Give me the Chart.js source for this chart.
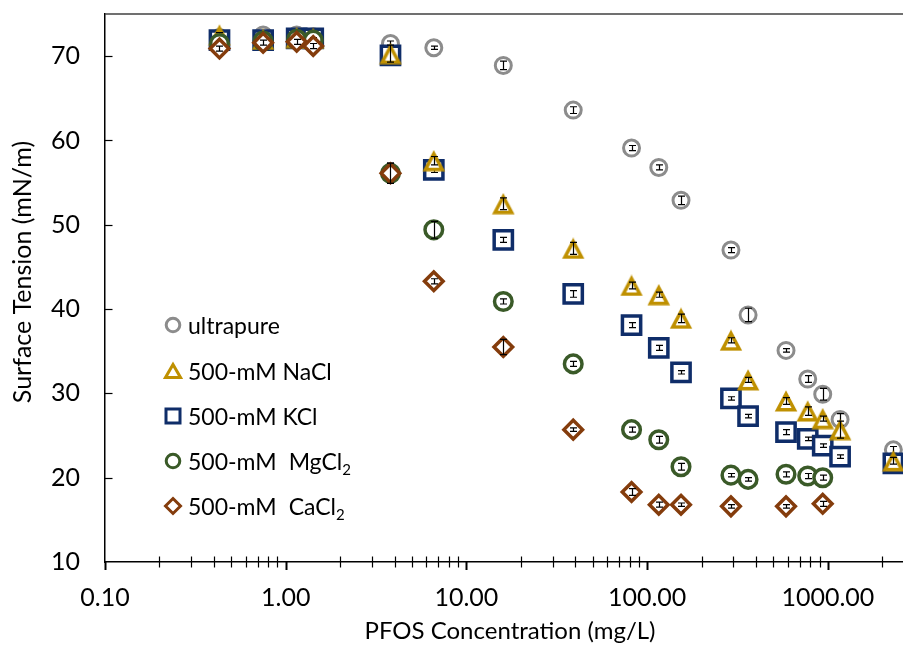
<!DOCTYPE html>
<html>
<head>
<meta charset="utf-8">
<script src="https://cdn.jsdelivr.net/npm/chart.js@4.4.1/dist/chart.umd.min.js"></script>
<style>
  html, body { margin: 0; padding: 0; background: #fff; }
  #wrap { position: relative; width: 903px; height: 645px; }
  #legend { position: absolute; left: 0; top: 0; font-family: Lato, sans-serif; font-size: 23px; color: #000; }
  .row { position: absolute; left: 163px; height: 30px; display: flex; align-items: center; white-space: nowrap; }
  .row svg { width: 20px; height: 20px; margin-right: 5px; flex: none; }
  .row sub { font-size: 15px; vertical-align: -5px; line-height: 0; }
  .gap { display: inline-block; width: 12px; }
</style>
</head>
<body>
<div id="wrap">
  <canvas id="chart" width="903" height="645"></canvas>
  <div id="legend"></div>
</div>
<script>
// PFOS concentration (mg/L), shared by all series
const conc = [0.43, 0.75, 1.15, 1.42, 3.8, 6.6, 16, 39, 82, 116, 154, 291, 362, 587, 774, 937, 1169, 2305];

// surface tension (mN/m), null = not measured
const ultrapure = [72.2, 72.5, 72.5, 72.3, 71.5, 71.0, 68.9, 63.6, 59.1, 56.8, 52.9, 47.0, 39.3, 35.1, 31.7, 29.9, 26.9, 23.3];
const nacl      = [72.5, 72.0, 72.2, 72.1, 70.3, 57.6, 52.5, 47.2, 42.8, 41.7, 38.9, 36.3, 31.6, 29.1, 27.9, 27.0, 25.7, 22.0];
const kcl       = [71.9, 71.9, 72.1, 72.1, 70.1, 56.5, 48.2, 41.8, 38.1, 35.4, 32.5, 29.4, 27.3, 25.4, 24.6, 23.8, 22.5, 21.7];
const mgcl2     = [71.5, 71.8, 72.0, 71.9, 56.1, 49.4, 40.9, 33.5, 25.7, 24.5, 21.3, 20.3, 19.8, 20.4, 20.2, 20.0, null, null];
const cacl2     = [70.9, 71.6, 71.7, 71.2, 56.1, 43.3, 35.5, 25.7, 18.3, 16.8, 16.8, 16.6, null, 16.6, null, 16.9, null, null];

// error bar half widths (mN/m)
const ultrapureErr = [0.3, 0.3, 0.3, 0.3, 0.3, 0.2, 0.5, 0.4, 0.3, 0.3, 0.5, 0.3, 0.8, 0.2, 0.4, 0.7, 0.7, 0.4];
const naclErr      = [0.3, 0.3, 0.3, 0.3, 1.0, 0.5, 0.7, 0.7, 0.4, 0.3, 0.5, 0.3, 0.3, 0.4, 0.5, 0.3, 1.0, 0.4];
const kclErr       = [0.3, 0.3, 0.3, 0.3, 0.3, 0.3, 0.3, 0.4, 0.3, 0.3, 0.2, 0.2, 0.2, 0.3, 0.2, 0.2, 0.2, 0.3];
const mgcl2Err     = [0.3, 0.3, 0.3, 0.3, 1.2, 1.0, 0.3, 0.3, 0.3, 0.4, 0.4, 0.2, 0.2, 0.3, 0.3, 0.3, null, null];
const cacl2Err     = [0.3, 0.3, 0.3, 0.3, 1.2, 0.3, 0.9, 0.2, 0.4, 0.3, 0.2, 0.2, null, 0.2, null, 0.3, null, null];

const xTicks = [0.1,0.2,0.3,0.4,0.5,0.6,0.7,0.8,0.9, 1,2,3,4,5,6,7,8,9, 10,20,30,40,50,60,70,80,90,
                100,200,300,400,500,600,700,800,900, 1000,2000];
const yTicks = [10, 20, 30, 40, 50, 60, 70];

const xTitle = 'PFOS Concentration (mg/L)';
const yTitle = 'Surface Tension (mN/m)';

const FONT = 'Lato, "Noto Sans", sans-serif';

function isDecade(v) {
  const l = Math.log10(v);
  return Math.abs(l - Math.round(l)) < 1e-6;
}

function points(vals, errs) {
  const out = [];
  conc.forEach((x, i) => {
    if (vals[i] != null) out.push({ x: x, y: vals[i], e: errs[i] });
  });
  return out;
}

// Excel style triangle, centred on its box
function triangleImage(color, lw) {
  const w = 24, h = 22;
  const c = document.createElement('canvas');
  c.width = w; c.height = h;
  const g = c.getContext('2d');
  g.lineWidth = lw;
  g.strokeStyle = color;
  g.fillStyle = '#fff';
  g.beginPath();
  g.moveTo(w / 2, lw + 0.5);
  g.lineTo(w - lw * 0.9 - 0.5, h - lw / 2 - 0.5);
  g.lineTo(lw * 0.9 + 0.5, h - lw / 2 - 0.5);
  g.closePath();
  g.fill();
  g.stroke();
  return c;
}

const grayC = '#8c8c8c', goldC = '#bf9000', blueC = '#0f2d69', greenC = '#3a5a28', brownC = '#843c0c';

const datasets = [
  { label: 'ultrapure', data: points(ultrapure, ultrapureErr), order: 5,
    pointStyle: 'circle', pointRadius: 8, pointBorderWidth: 3, borderColor: grayC },
  { label: '500-mM NaCl', data: points(nacl, naclErr), order: 3,
    pointStyle: triangleImage(goldC, 3.5), pointRadius: 11, borderColor: goldC },
  { label: '500-mM KCl', data: points(kcl, kclErr), order: 4,
    pointStyle: 'rect', pointRadius: 12.9, pointBorderWidth: 3.5, borderColor: blueC },
  { label: '500-mM MgCl2', data: points(mgcl2, mgcl2Err), order: 2,
    pointStyle: 'circle', pointRadius: 8.8, pointBorderWidth: 3.5, borderColor: greenC },
  { label: '500-mM CaCl2', data: points(cacl2, cacl2Err), order: 1,
    pointStyle: 'rectRot', pointRadius: 9.3, pointBorderWidth: 3.5, borderColor: brownC }
];
datasets.forEach(d => {
  d.pointBackgroundColor = '#fff';
  d.pointBorderColor = d.borderColor;
  d.showLine = false;
});

// error bars drawn right after each series
const errorBars = {
  id: 'errorBars',
  afterDatasetDraw(chart, args) {
    const ds = chart.data.datasets[args.index];
    const yScale = chart.scales.y;
    const ctx = chart.ctx;
    ctx.save();
    ctx.strokeStyle = '#000';
    ctx.lineWidth = 1.2;
    args.meta.data.forEach((el, j) => {
      const e = ds.data[j].e;
      if (e == null) return;
      const x = Math.round(el.x) + 0.5;
      const y1 = yScale.getPixelForValue(ds.data[j].y + e);
      const y2 = yScale.getPixelForValue(ds.data[j].y - e);
      ctx.beginPath();
      ctx.moveTo(x, y1); ctx.lineTo(x, y2);
      ctx.moveTo(x - 3.5, y1); ctx.lineTo(x + 3.5, y1);
      ctx.moveTo(x - 3.5, y2); ctx.lineTo(x + 3.5, y2);
      ctx.stroke();
    });
    ctx.restore();
  }
};

// tick marks like the Excel axes, top frame line and axis titles
const axisMarks = {
  id: 'axisMarks',
  afterDraw(chart) {
    const { ctx, chartArea: a, scales: { x, y } } = chart;
    ctx.save();
    ctx.strokeStyle = '#404040';
    ctx.lineWidth = 1.5;
    ctx.beginPath();
    ctx.moveTo(a.left, a.top); ctx.lineTo(a.right, a.top);
    ctx.stroke();

    ctx.strokeStyle = '#000';
    x.ticks.forEach(t => {
      const px = Math.round(x.getPixelForValue(t.value)) + 0.5;
      ctx.beginPath();
      if (isDecade(t.value)) {
        ctx.lineWidth = 2;
        ctx.moveTo(px, a.bottom); ctx.lineTo(px, a.bottom + 8);
      } else {
        ctx.lineWidth = 1.2;
        ctx.moveTo(px, a.bottom - 5.5); ctx.lineTo(px, a.bottom + 5.5);
      }
      ctx.stroke();
    });
    ctx.lineWidth = 1.2;
    y.ticks.forEach(t => {
      if (t.value === 10) return;
      const py = Math.round(y.getPixelForValue(t.value)) + 0.5;
      ctx.beginPath();
      ctx.moveTo(a.left, py); ctx.lineTo(a.left + 7.5, py);
      ctx.stroke();
    });

    // axis titles
    ctx.fillStyle = '#000';
    ctx.textAlign = 'center';
    ctx.textBaseline = 'middle';
    ctx.font = '24px ' + FONT;
    ctx.fillText(xTitle, 510, 631);
    ctx.translate(23, 272);
    ctx.rotate(-Math.PI / 2);
    ctx.font = '25px ' + FONT;
    ctx.fillText(yTitle, 0, 0);
    ctx.restore();
  }
};

new Chart(document.getElementById('chart'), {
  type: 'scatter',
  data: { datasets: datasets },
  options: {
    responsive: false,
    devicePixelRatio: 1,
    animation: false,
    events: [],
    layout: { autoPadding: false, padding: { top: 14, right: 0, bottom: 0, left: 0 } },
    plugins: { legend: { display: false }, tooltip: { enabled: false } },
    scales: {
      x: {
        type: 'logarithmic',
        min: 0.1,
        max: 2606,
        grid: { display: false, drawTicks: false },
        border: { display: true, color: '#000', width: 1.5 },
        afterBuildTicks: s => { s.ticks = xTicks.map(v => ({ value: v })); },
        afterFit: s => { s.height = 83; s.paddingLeft = 0; s.paddingRight = 0; },
        ticks: {
          autoSkip: false, maxRotation: 0, padding: 21, color: '#000',
          font: { family: FONT, size: 25 },
          callback: v => isDecade(v) ? Number(v).toFixed(2) : ''
        }
      },
      y: {
        min: 10,
        max: 75,
        grid: { display: false, drawTicks: false },
        border: { display: true, color: '#000', width: 1.5 },
        afterBuildTicks: s => { s.ticks = yTicks.map(v => ({ value: v })); },
        afterFit: s => { s.width = 105; s.paddingTop = 0; s.paddingBottom = 0; },
        ticks: { padding: 25, color: '#000', font: { family: FONT, size: 25 } }
      }
    }
  },
  plugins: [errorBars, axisMarks]
});

// legend inside the plot
const legendLabels = ['ultrapure', '500-mM NaCl', '500-mM KCl',
  '500-mM<span class="gap"></span>MgCl<sub>2</sub>', '500-mM<span class="gap"></span>CaCl<sub>2</sub>'];
const legendShapes = [
  `<circle cx="10" cy="10" r="6.8" fill="#fff" stroke="${grayC}" stroke-width="3"/>`,
  `<polygon points="10,3.5 17.5,16.5 2.5,16.5" fill="#fff" stroke="${goldC}" stroke-width="3"/>`,
  `<rect x="3" y="3" width="14" height="14" fill="#fff" stroke="${blueC}" stroke-width="3"/>`,
  `<circle cx="10" cy="10" r="6.8" fill="#fff" stroke="${greenC}" stroke-width="3"/>`,
  `<polygon points="10,2.5 17.5,10 10,17.5 2.5,10" fill="#fff" stroke="${brownC}" stroke-width="3"/>`
];
const legendY = [325, 371, 416, 461, 506];
const legend = document.getElementById('legend');
legendLabels.forEach((txt, i) => {
  const row = document.createElement('div');
  row.className = 'row';
  row.style.top = (legendY[i] - 15) + 'px';
  row.innerHTML = `<svg viewBox="0 0 20 20">${legendShapes[i]}</svg><span>${txt}</span>`;
  legend.appendChild(row);
});
</script>
</body>
</html>
